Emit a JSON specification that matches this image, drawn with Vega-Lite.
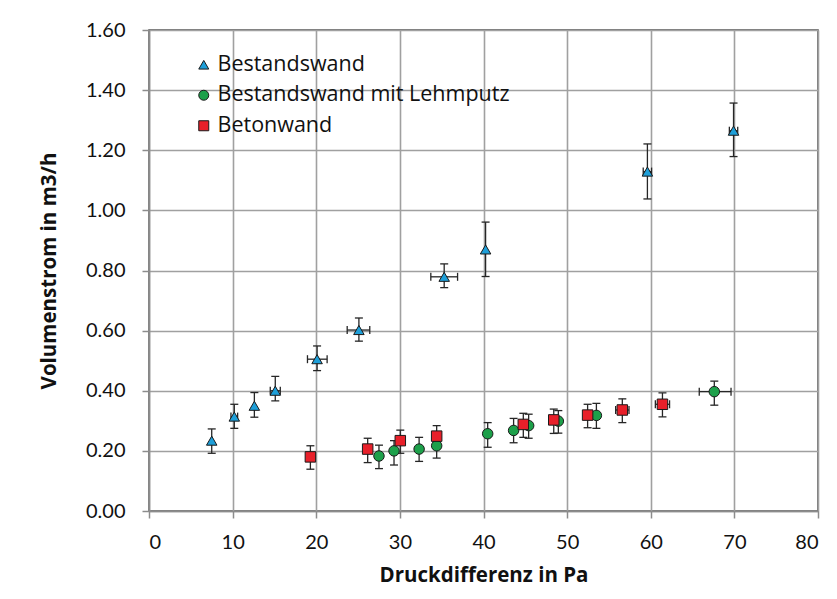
{
  "$schema": "https://vega.github.io/schema/vega-lite/v6.json",
  "width": 669,
  "height": 481,
  "autosize": "none",
  "padding": {"left": 149, "top": 30, "right": 19, "bottom": 88},
  "background": "white",
  "config": {
    "view": {"stroke": "#4d4d4d", "strokeWidth": 1.5},
    "font": "Lato",
    "axis": {
      "labelFont": "Lato", "labelFontSize": 20, "labelColor": "#111111",
      "titleFont": "Open Sans", "titleFontSize": 20.5, "titleFontWeight": "bold", "titleColor": "#111111",
      "domainColor": "#8c8c8c", "domainWidth": 1.5,
      "tickColor": "#8c8c8c", "tickWidth": 1.5, "tickSize": 7,
      "gridColor": "#a0a0a0", "gridWidth": 1.6, "grid": true
    },
    "axisY": {"grid": true, "gridColor": "#a0a0a0", "gridWidth": 1.6, "gridOpacity": 1},
    "legend": {"labelFont": "Open Sans", "labelFontSize": 21.5, "labelColor": "#111111", "labelLimit": 0}
  },
  "data": {"values": [
    {"s": "Bestandswand", "x": 7.5, "y": 0.234, "ylo": 0.192, "yhi": 0.273},
    {"s": "Bestandswand", "x": 10.2, "y": 0.314, "ylo": 0.275, "yhi": 0.355, "xlo": 9.8, "xhi": 10.6},
    {"s": "Bestandswand", "x": 12.6, "y": 0.350, "ylo": 0.312, "yhi": 0.394},
    {"s": "Bestandswand", "x": 15.1, "y": 0.400, "ylo": 0.366, "yhi": 0.448, "xlo": 14.5, "xhi": 15.7},
    {"s": "Bestandswand", "x": 20.1, "y": 0.505, "ylo": 0.467, "yhi": 0.549, "xlo": 18.95, "xhi": 21.3},
    {"s": "Bestandswand", "x": 25.1, "y": 0.602, "ylo": 0.565, "yhi": 0.642, "xlo": 23.7, "xhi": 26.4},
    {"s": "Bestandswand", "x": 35.3, "y": 0.779, "ylo": 0.743, "yhi": 0.822, "xlo": 33.7, "xhi": 36.9},
    {"s": "Bestandswand", "x": 40.25, "y": 0.870, "ylo": 0.780, "yhi": 0.961},
    {"s": "Bestandswand", "x": 59.6, "y": 1.129, "ylo": 1.038, "yhi": 1.221, "xlo": 59.1, "xhi": 60.1},
    {"s": "Bestandswand", "x": 69.9, "y": 1.265, "ylo": 1.179, "yhi": 1.357, "xlo": 69.4, "xhi": 70.4},
    {"s": "Bestandswand mit Lehmputz", "x": 27.5, "y": 0.183, "ylo": 0.141, "yhi": 0.219},
    {"s": "Bestandswand mit Lehmputz", "x": 29.3, "y": 0.200, "ylo": 0.153, "yhi": 0.234},
    {"s": "Bestandswand mit Lehmputz", "x": 32.3, "y": 0.206, "ylo": 0.165, "yhi": 0.245},
    {"s": "Bestandswand mit Lehmputz", "x": 34.4, "y": 0.217, "ylo": 0.176, "yhi": 0.255},
    {"s": "Bestandswand mit Lehmputz", "x": 40.5, "y": 0.257, "ylo": 0.212, "yhi": 0.294},
    {"s": "Bestandswand mit Lehmputz", "x": 43.6, "y": 0.268, "ylo": 0.227, "yhi": 0.308},
    {"s": "Bestandswand mit Lehmputz", "x": 45.4, "y": 0.284, "ylo": 0.242, "yhi": 0.322},
    {"s": "Bestandswand mit Lehmputz", "x": 48.95, "y": 0.299, "ylo": 0.259, "yhi": 0.334},
    {"s": "Bestandswand mit Lehmputz", "x": 53.5, "y": 0.318, "ylo": 0.275, "yhi": 0.358},
    {"s": "Bestandswand mit Lehmputz", "x": 67.6, "y": 0.397, "ylo": 0.352, "yhi": 0.432, "xlo": 65.8, "xhi": 69.6},
    {"s": "Betonwand", "x": 19.3, "y": 0.180, "ylo": 0.139, "yhi": 0.217},
    {"s": "Betonwand", "x": 26.15, "y": 0.206, "ylo": 0.161, "yhi": 0.242},
    {"s": "Betonwand", "x": 30.05, "y": 0.234, "ylo": 0.192, "yhi": 0.269},
    {"s": "Betonwand", "x": 34.4, "y": 0.249, "ylo": 0.212, "yhi": 0.284},
    {"s": "Betonwand", "x": 44.76, "y": 0.288, "ylo": 0.245, "yhi": 0.325},
    {"s": "Betonwand", "x": 48.4, "y": 0.303, "ylo": 0.258, "yhi": 0.339},
    {"s": "Betonwand", "x": 52.45, "y": 0.319, "ylo": 0.277, "yhi": 0.355},
    {"s": "Betonwand", "x": 56.6, "y": 0.336, "ylo": 0.294, "yhi": 0.373, "xlo": 55.8, "xhi": 57.4},
    {"s": "Betonwand", "x": 61.4, "y": 0.355, "ylo": 0.313, "yhi": 0.393, "xlo": 60.55, "xhi": 62.25}
  ]},
  "layer": [
    {
      "mark": {"type": "rule", "color": "#262626", "strokeWidth": 1.3},
      "encoding": {
        "x": {"field": "x", "type": "quantitative", "title": "Druckdifferenz in Pa", "scale": {"domain": [0, 80], "nice": false},
          "axis": {"values": [0,10,20,30,40,50,60,70,80], "labelPadding": 14, "titlePadding": 13, "grid": true}},
        "y": {"field": "ylo", "type": "quantitative", "title": "Volumenstrom  in m3/h", "scale": {"domain": [0, 1.6], "nice": false},
          "axis": {"orient": "left", "values": [0, 0.2, 0.4, 0.6, 0.8, 1.0, 1.2, 1.4, 1.6], "format": ".2f",
            "labelPadding": 17, "titlePadding": 26, "grid": true, "labelOverlap": false}},
        "y2": {"field": "yhi"}
      }
    },
    {
      "mark": {"type": "tick", "orient": "horizontal", "color": "#262626", "size": 8, "thickness": 1.3, "opacity": 1},
      "encoding": {
        "x": {"field": "x", "type": "quantitative", "title": "Druckdifferenz in Pa"},
        "y": {"field": "ylo", "type": "quantitative", "title": "Volumenstrom  in m3/h"}
      }
    },
    {
      "mark": {"type": "tick", "orient": "horizontal", "color": "#262626", "size": 8, "thickness": 1.3, "opacity": 1},
      "encoding": {
        "x": {"field": "x", "type": "quantitative", "title": "Druckdifferenz in Pa"},
        "y": {"field": "yhi", "type": "quantitative", "title": "Volumenstrom  in m3/h"}
      }
    },
    {
      "transform": [{"filter": "isValid(datum.xlo)"}],
      "mark": {"type": "rule", "color": "#262626", "strokeWidth": 1.3},
      "encoding": {
        "x": {"field": "xlo", "type": "quantitative", "title": "Druckdifferenz in Pa"},
        "x2": {"field": "xhi"},
        "y": {"field": "y", "type": "quantitative", "title": "Volumenstrom  in m3/h"}
      }
    },
    {
      "transform": [{"filter": "isValid(datum.xlo)"}],
      "mark": {"type": "tick", "orient": "vertical", "color": "#262626", "size": 8, "thickness": 1.3, "opacity": 1},
      "encoding": {
        "x": {"field": "xlo", "type": "quantitative", "title": "Druckdifferenz in Pa"},
        "y": {"field": "y", "type": "quantitative", "title": "Volumenstrom  in m3/h"}
      }
    },
    {
      "transform": [{"filter": "isValid(datum.xlo)"}],
      "mark": {"type": "tick", "orient": "vertical", "color": "#262626", "size": 8, "thickness": 1.3, "opacity": 1},
      "encoding": {
        "x": {"field": "xhi", "type": "quantitative", "title": "Druckdifferenz in Pa"},
        "y": {"field": "y", "type": "quantitative", "title": "Volumenstrom  in m3/h"}
      }
    },
    {
      "mark": {"type": "point", "filled": true, "size": 110, "opacity": 1, "stroke": "#1a1a1a", "strokeWidth": 1},
      "encoding": {
        "x": {"field": "x", "type": "quantitative", "title": "Druckdifferenz in Pa"},
        "y": {"field": "y", "type": "quantitative", "title": "Volumenstrom  in m3/h"},
        "color": {"field": "s", "type": "nominal",
          "scale": {"domain": ["Bestandswand", "Bestandswand mit Lehmputz", "Betonwand"], "range": ["#1E9FD9", "#1DA04A", "#E8202A"]},
          "legend": {"orient": "none", "legendX": 44, "legendY": 24, "title": null, "symbolSize": 100, "symbolStrokeColor": "#1a1a1a", "symbolStrokeWidth": 1, "rowPadding": 7.5, "labelOffset": 3}},
        "shape": {"field": "s", "type": "nominal",
          "scale": {"domain": ["Bestandswand", "Bestandswand mit Lehmputz", "Betonwand"], "range": ["triangle-up", "circle", "square"]},
          "legend": {"orient": "none", "legendX": 44, "legendY": 24, "title": null, "symbolSize": 100, "symbolStrokeColor": "#1a1a1a", "symbolStrokeWidth": 1, "rowPadding": 7.5, "labelOffset": 3}}
      }
    }
  ]
}
